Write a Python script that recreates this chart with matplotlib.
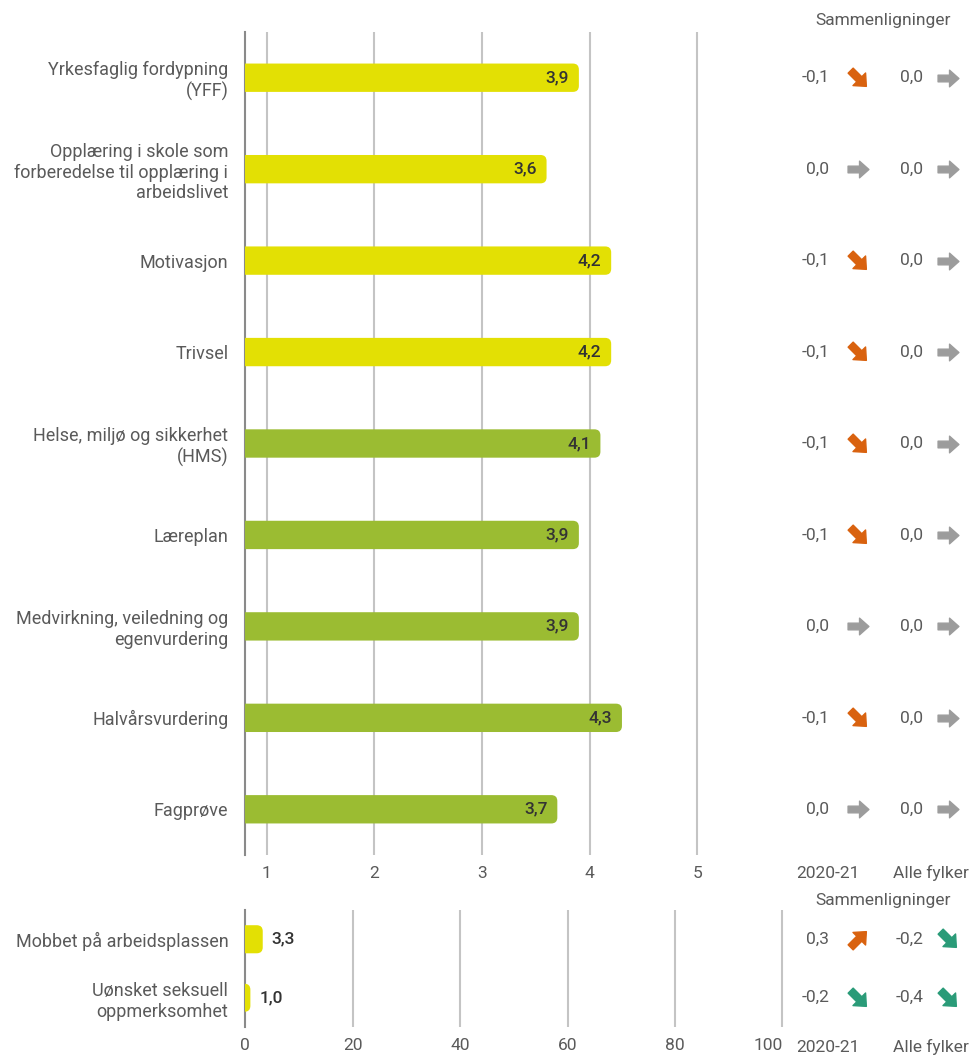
import matplotlib.pyplot as plt
import numpy as np
from matplotlib.patches import FancyBboxPatch
from matplotlib.path import Path
from matplotlib.markers import MarkerStyle
from matplotlib.transforms import Affine2D, blended_transform_factory

plt.rcParams['font.family'] = ['Roboto', 'DejaVu Sans']

# --- data ---
top_labels = [
    "Yrkesfaglig fordypning\n(YFF)",
    "Opplæring i skole som\nforberedelse til opplæring i\narbeidslivet",
    "Motivasjon",
    "Trivsel",
    "Helse, miljø og sikkerhet\n(HMS)",
    "Læreplan",
    "Medvirkning, veiledning og\negenvurdering",
    "Halvårsvurdering",
    "Fagprøve",
]
top_values = [3.9, 3.6, 4.2, 4.2, 4.1, 3.9, 3.9, 4.3, 3.7]
top_groups = ["y", "y", "y", "y", "g", "g", "g", "g", "g"]
top_vs_year = [-0.1, 0.0, -0.1, -0.1, -0.1, -0.1, 0.0, -0.1, 0.0]
top_vs_all = [0.0, 0.0, 0.0, 0.0, 0.0, 0.0, 0.0, 0.0, 0.0]
top_ticks = [1, 2, 3, 4, 5]

bot_labels = ["Mobbet på arbeidsplassen", "Uønsket seksuell\noppmerksomhet"]
bot_values = [3.3, 1.0]
bot_vs_year = [0.3, -0.2]
bot_vs_all = [-0.2, -0.4]
bot_ticks = [0, 20, 40, 60, 80, 100]

# for bullying items a decrease is good (green), an increase is bad (orange)
YELLOW = "#E3E004"
GREEN = "#9BBC32"
ORANGE = "#D9620F"
TEAL = "#2A9B78"
GRAYARROW = "#9C9C9C"
GRID = "#C4C4C4"
LABEL = "#5A5A5A"

W, H = 973, 1057
fig = plt.figure(figsize=(W / 100, H / 100), dpi=100)

FS_LABEL = 13
FS_SMALL = 12.5


def px_axes(left, top, right, bottom):
    return fig.add_axes([left / W, 1 - bottom / H, (right - left) / W, (bottom - top) / H])


def fmt(v):
    return f"{v:.1f}".replace(".", ",")


# block arrow marker pointing right
arrow_path = Path(
    [(-1, -0.32), (0.1, -0.32), (0.1, -0.8), (1, 0), (0.1, 0.8), (0.1, 0.32), (-1, 0.32), (-1, -0.32)],
    [Path.MOVETO] + [Path.LINETO] * 6 + [Path.CLOSEPOLY],
)


def arrow_marker(v, bad_when_up):
    if abs(v) < 0.05:
        return MarkerStyle(arrow_path), GRAYARROW, 15
    ang = 45 if v > 0 else -45
    good = (v < 0) if bad_when_up else (v > 0)
    m = MarkerStyle(arrow_path, transform=Affine2D().rotate_deg(ang))
    return m, (TEAL if good else ORANGE), 16


def rounded_bars(ax, values, start, height, colors, px_per_x, px_per_y):
    aspect = (1 / px_per_y) / (1 / px_per_x)
    for i, (v, c) in enumerate(zip(values, colors)):
        w = v - start
        r = 6 / px_per_x
        box = FancyBboxPatch((start - 2 * r, i - height / 2), w + 2 * r, height,
                             boxstyle=f"round,pad=0,rounding_size={r}",
                             mutation_aspect=aspect, fc=c, ec="none", zorder=3)
        ax.add_patch(box)


def comparisons(ax, vs_year, vs_all, bad_when_up):
    tr = blended_transform_factory(fig.transFigure, ax.transData)
    for i, (a, b) in enumerate(zip(vs_year, vs_all)):
        for v, xt, xa in [(a, 829, 858), (b, 923, 948)]:
            fig.text(xt / W, i, fmt(v), transform=tr, ha="right", va="center",
                     fontsize=FS_SMALL, color=LABEL)
            m, c, s = arrow_marker(v, bad_when_up)
            ax.plot([xa / W], [i], marker=m, color=c, markersize=s, transform=tr,
                    clip_on=False, linestyle="none")


def headers(y_title, y_foot):
    fig.text(883 / W, 1 - y_title / H, "Sammenligninger", ha="center", va="baseline",
             fontsize=FS_SMALL, color=LABEL)
    fig.text(828 / W, 1 - y_foot / H, "2020-21", ha="center", va="baseline",
             fontsize=FS_SMALL, color=LABEL)
    fig.text(931 / W, 1 - y_foot / H, "Alle fylker", ha="center", va="baseline",
             fontsize=FS_SMALL, color=LABEL)


# --- top panel: scale 1-5 ---
x0, x1 = 0.8, 5.3
ax = px_axes(245, 32, 245 + (x1 - x0) * 107.7, 855)
ax.set_xlim(x0, x1)
ax.set_ylim(len(top_values) - 0.5, -0.5)
for s in ["top", "right", "bottom"]:
    ax.spines[s].set_visible(False)
ax.spines["left"].set_color("#8A8A8A")
ax.spines["left"].set_linewidth(1.5)
for t in top_ticks:
    ax.axvline(t, color=GRID, lw=1.5, zorder=1)
ax.set_xticks(top_ticks)
ax.set_xticklabels([str(t) for t in top_ticks])
ax.tick_params(axis="x", length=0, pad=8, labelsize=FS_SMALL, labelcolor=LABEL)
ax.set_yticks(range(len(top_labels)))
ax.set_yticklabels(top_labels, fontsize=FS_LABEL, color=LABEL, linespacing=1.2)
ax.tick_params(axis="y", length=0, pad=12)
cols = [YELLOW if g == "y" else GREEN for g in top_groups]
rounded_bars(ax, top_values, x0, 0.31, cols, 107.7, 91.4)
for i, v in enumerate(top_values):
    ax.text(v - 0.09, i, fmt(v), ha="right", va="center", fontsize=FS_SMALL,
            color="#333333", fontweight="medium", zorder=4)
comparisons(ax, top_vs_year, top_vs_all, bad_when_up=False)
headers(25, 878)

# --- bottom panel: percent ---
ax2 = px_axes(245, 910, 245 + 105 * 5.375, 1027)
ax2.set_xlim(0, 105)
ax2.set_ylim(len(bot_values) - 0.5, -0.5)
for s in ["top", "right", "bottom"]:
    ax2.spines[s].set_visible(False)
ax2.spines["left"].set_color("#8A8A8A")
ax2.spines["left"].set_linewidth(1.5)
for t in bot_ticks[1:]:
    ax2.axvline(t, color=GRID, lw=1.5, zorder=1)
ax2.set_xticks(bot_ticks)
ax2.set_xticklabels([str(t) for t in bot_ticks])
ax2.tick_params(axis="x", length=0, pad=8, labelsize=FS_SMALL, labelcolor=LABEL)
ax2.get_xticklabels()[-1].set_horizontalalignment("right")
ax2.set_yticks(range(len(bot_labels)))
ax2.set_yticklabels(bot_labels, fontsize=FS_LABEL, color=LABEL, linespacing=1.2)
ax2.tick_params(axis="y", length=0, pad=12)
rounded_bars(ax2, bot_values, 0, 0.48, [YELLOW, YELLOW], 5.375, 58.5)
for i, v in enumerate(bot_values):
    ax2.text(v + 1.7, i, fmt(v), ha="left", va="center", fontsize=FS_SMALL,
             color="#333333", fontweight="medium", zorder=4)
comparisons(ax2, bot_vs_year, bot_vs_all, bad_when_up=True)
headers(905, 1052)

fig.savefig("out.png", dpi=100, facecolor="white")
